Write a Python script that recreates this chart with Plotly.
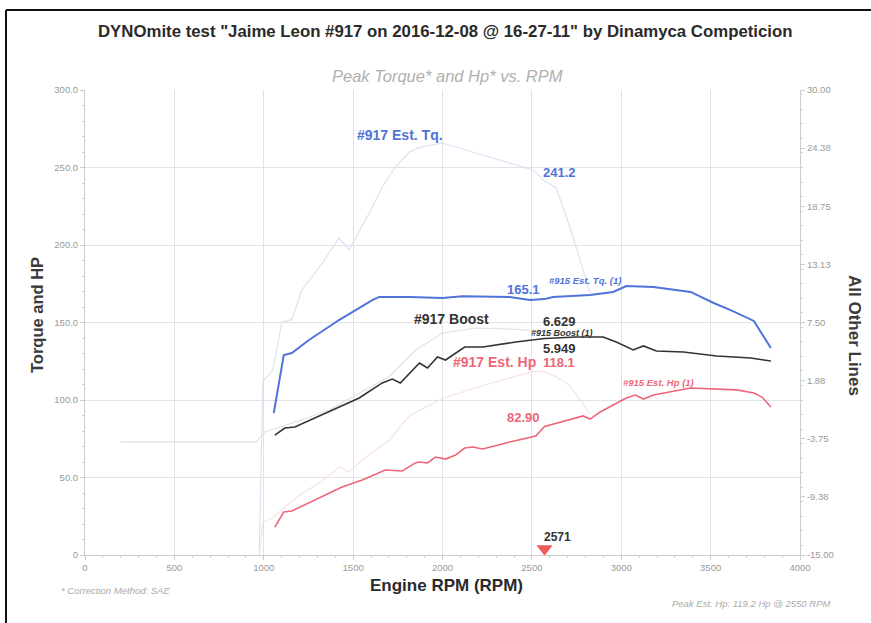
import plotly.graph_objects as go

# ---------------- data ----------------
tq917_rpm = [975, 995, 1050, 1101, 1157, 1213, 1326, 1421, 1477, 1590, 1663, 1736, 1815, 1871,
             2000, 2185, 2376, 2506, 2571, 2635, 2713, 2787, 2826]
tq917 = [0, 112, 119, 150, 152, 171, 188, 204.5, 197, 220.6, 237.4, 250.3, 260, 263,
         265.8, 259.4, 253, 248.4, 241.2, 237, 211.6, 184, 169]

hp917_rpm = [975, 995, 1050, 1118, 1213, 1326, 1421, 1477, 1551, 1702, 1815, 2000, 2185, 2376,
             2506, 2571, 2635, 2713, 2787, 2826]
hp917 = [0, 21, 24, 31, 39.5, 47.5, 56.8, 53.5, 61.3, 74.2, 89.8, 101, 107.9, 114.5,
         118.5, 118.1, 115, 109.3, 97.6, 91]

boost917_rpm = [200, 960, 1006, 1100, 1200, 1365, 1530, 1700, 1850, 2000, 2185, 2400, 2571, 2650]
boost917 = [-4.06, -4.06, -3.1, -2.6, -2.0, -0.97, 0.6, 2.26, 4.84, 6.48, 6.97, 6.85, 6.629, 6.3]

tq915_rpm = [1056, 1112, 1157, 1253, 1421, 1511, 1607, 1646, 1815, 2000, 2112, 2376, 2489, 2571,
             2618, 2826, 2955, 3028, 3180, 3388, 3517, 3612, 3742, 3837]
tq915 = [91.6, 129, 130.3, 138.7, 151.6, 158, 164.5, 166.5, 166.5, 165.8, 167, 166.5, 164.5, 165.1,
         166.5, 167.7, 169.7, 173.5, 172.9, 169.7, 162.6, 158, 151, 133.5]

boost915_rpm = [1062, 1118, 1174, 1343, 1534, 1663, 1719, 1764, 1871, 1916, 1972, 2017, 2124, 2225,
                2410, 2571, 2747, 2899, 2972, 3067, 3124, 3197, 3348, 3534, 3725, 3837]
boost915 = [-3.39, -2.71, -2.61, -1.26, 0.19, 1.65, 2.03, 1.65, 3.58, 3.10, 4.16, 3.87, 5.13, 5.13,
            5.61, 5.949, 6.10, 6.10, 5.61, 4.84, 5.23, 4.74, 4.65, 4.26, 4.06, 3.77]

hp915_rpm = [1062, 1112, 1157, 1438, 1551, 1680, 1775, 1848, 1870, 1916, 1960, 2017, 2073, 2124,
             2169, 2225, 2376, 2522, 2571, 2787, 2826, 2882, 3028, 3079, 3124, 3180, 3388, 3534,
             3646, 3742, 3787, 3837]
hp915 = [18, 27.7, 28.4, 43.9, 48.4, 54.8, 54.2, 59.4, 60, 59.4, 63.2, 61.9, 64.5, 69,
         69.7, 68.4, 72.9, 76.8, 82.9, 89.7, 87.7, 92.3, 101.3, 103.2, 100.6, 103.2, 107.7, 107.1,
         106.5, 104.5, 101.9, 95.5]

cursor_rpm = 2571

x_ticks = [0, 500, 1000, 1500, 2000, 2500, 3000, 3500, 4000]
y_ticks = [0, 50, 100, 150, 200, 250, 300]
y_ticktext = ["0", "50.0", "100.0", "150.0", "200.0", "250.0", "300.0"]
y2_ticks = [-15, -9.375, -3.75, 1.875, 7.5, 13.125, 18.75, 24.375, 30]
y2_ticktext = ["-15.00", "-9.38", "-3.75", "1.88", "7.50", "13.13", "18.75", "24.38", "30.00"]

# ---------------- styles ----------------
FONT = "Liberation Sans, Arial, sans-serif"
BLUE = "#4f73d9"
PINK = "#ee6677"
DARK = "#333333"
BLUE_F = "#d9e3f4"
GRAY_F = "#e2e2e2"
PINK_F = "#f8e1e5"
TICK = "#9a9a9a"
GRID = "#e2e2e2"

fig = go.Figure()

def line(x, y, color, width, axis="y"):
    fig.add_trace(go.Scatter(x=x, y=y, mode="lines", yaxis=axis,
                             line=dict(color=color, width=width), showlegend=False,
                             hoverinfo="skip"))

line(tq917_rpm, tq917, BLUE_F, 1.2)
line(hp917_rpm, hp917, PINK_F, 1.2)
line(boost917_rpm, boost917, GRAY_F, 1.2, "y2")
line(tq915_rpm, tq915, BLUE, 2.0)
line(hp915_rpm, hp915, PINK, 1.6)
line(boost915_rpm, boost915, DARK, 1.6, "y2")

# cursor marker
fig.add_trace(go.Scatter(x=[cursor_rpm], y=[4], mode="markers", showlegend=False,
                         marker=dict(symbol="triangle-down", size=14, color="#f05a5a"),
                         hoverinfo="skip"))

# ---------------- annotations ----------------
def px(xp, yp):
    return (xp - 85) / 715.0, (555 - yp) / 465.0

anns = []

def paper_text(text, xpix, ypix, size, color, bold=False, italic=False, xanchor="center", angle=0):
    x, y = px(xpix, ypix)
    t = text
    if bold:
        t = "<b>" + t + "</b>"
    if italic:
        t = "<i>" + t + "</i>"
    anns.append(dict(text=t, x=x, y=y, xref="paper", yref="paper", showarrow=False,
                     xanchor=xanchor, yanchor="middle", textangle=angle,
                     font=dict(family=FONT, size=size, color=color)))

def data_text(text, x, y, size, color, bold=True, italic=False, xanchor="center", xshift=0):
    t = text
    if bold:
        t = "<b>" + t + "</b>"
    if italic:
        t = "<i>" + t + "</i>"
    anns.append(dict(text=t, x=x, y=y, xref="x", yref="y", showarrow=False,
                     xanchor=xanchor, yanchor="middle", xshift=xshift,
                     font=dict(family=FONT, size=size, color=color)))

paper_text('DYNOmite test "Jaime Leon #917 on 2016-12-08 @ 16-27-11" by Dinamyca Competicion',
           445, 32, 16.8, "#2a2a2a", bold=True)
paper_text("Peak Torque* and Hp* vs. RPM", 447, 76, 16.5, "#b0b0b0", italic=True)
paper_text("Torque and HP", 37, 315, 16.5, "#3a3a3a", bold=True, angle=-90)
paper_text("All Other Lines", 855, 335, 17, "#3a3a3a", bold=True, angle=90)
paper_text("Engine RPM (RPM)", 446, 585, 17, "#2a2a2a", bold=True)
paper_text("* Correction Method: SAE", 59, 590, 9.5, "#aaaaaa", italic=True, xanchor="left")
paper_text("Peak Est. Hp: 119.2 Hp @ 2550 RPM", 832, 603, 9.5, "#aaaaaa", italic=True, xanchor="right")

# series labels
data_text("#917 Est. Tq.", 1762, 271, 14, BLUE)
data_text("241.2", cursor_rpm, 247, 13, BLUE, xanchor="left", xshift=-4)
data_text("#915 Est. Tq. (1)", 2797, 177, 9.5, BLUE, italic=True)
data_text("165.1", cursor_rpm, 171, 13, BLUE, xanchor="right", xshift=-3)
data_text("#917 Boost", 2048, 152, 14, DARK)
data_text("6.629", cursor_rpm, 150.5, 13, DARK, xanchor="left", xshift=-4)
data_text("#915 Boost (1)", 2668, 143, 9, DARK, italic=True)
data_text("5.949", cursor_rpm, 133, 13, DARK, xanchor="left", xshift=-4)
data_text("#917 Est. Hp", cursor_rpm, 124.5, 14, PINK, xanchor="right", xshift=-7)
data_text("118.1", cursor_rpm, 124.5, 13, PINK, xanchor="left", xshift=-4)
data_text("82.90", cursor_rpm, 89, 13, PINK, xanchor="right", xshift=-3)
data_text("#915 Est. Hp (1)", 3211, 111, 9.5, PINK, italic=True)
data_text("2571", cursor_rpm, 11.5, 12, DARK, xanchor="left", xshift=-3)

# frame lines (left + top)
lx, _ = px(6, 0)
rx, _ = px(871, 0)
_, ty = px(0, 10)
_, by = px(0, 623)
shapes = [
    dict(type="line", xref="paper", yref="paper", x0=lx, x1=rx, y0=ty, y1=ty,
         line=dict(color="#111111", width=2)),
    dict(type="line", xref="paper", yref="paper", x0=lx, x1=lx, y0=ty, y1=by,
         line=dict(color="#111111", width=2)),
]

axis_common = dict(showline=True, linecolor="#cccccc", linewidth=1, ticks="outside",
                   ticklen=4, tickcolor="#cccccc", zeroline=False,
                   tickfont=dict(family=FONT, size=9.5, color=TICK))

fig.update_layout(
    width=871, height=623,
    margin=dict(l=85, r=71, t=90, b=68),
    paper_bgcolor="white", plot_bgcolor="white",
    showlegend=False,
    annotations=anns,
    shapes=shapes,
    xaxis=dict(range=[0, 4000], tickvals=x_ticks, ticktext=[str(v) for v in x_ticks],
               showgrid=True, gridcolor=GRID, gridwidth=1,
               minor=dict(ticks="outside", ticklen=2, tickcolor="#d0d0d0", dtick=100, showgrid=False),
               **axis_common),
    yaxis=dict(range=[0, 300], tickvals=y_ticks, ticktext=y_ticktext,
               showgrid=True, gridcolor=GRID, gridwidth=1,
               minor=dict(ticks="outside", ticklen=2, tickcolor="#d0d0d0", dtick=10, showgrid=False),
               **axis_common),
    yaxis2=dict(range=[-15, 30], tickvals=y2_ticks, ticktext=y2_ticktext, overlaying="y",
                side="right", showgrid=False,
                minor=dict(ticks="outside", ticklen=2, tickcolor="#d0d0d0", dtick=1.40625, showgrid=False),
                **axis_common),
)

fig.write_html("out.html")
